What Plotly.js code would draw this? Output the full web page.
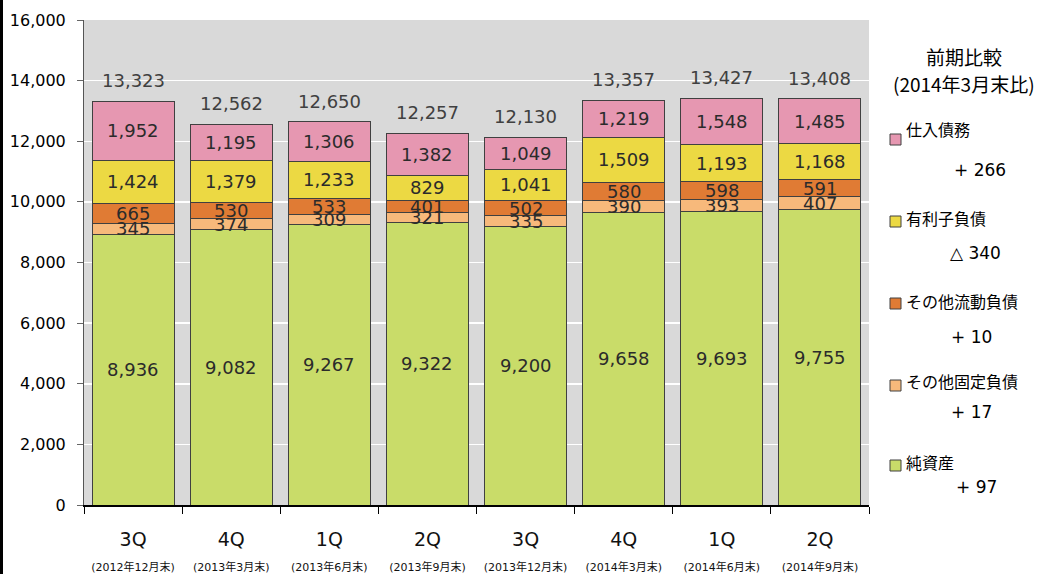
<!DOCTYPE html>
<html>
<head>
<meta charset="utf-8">
<script src="https://cdn.plot.ly/plotly-3.0.1.min.js"></script>
<style>
html,body{margin:0;padding:0;background:#fff;}
#chart{width:1041px;height:574px;}
#edge{position:absolute;left:0;top:0;width:3px;height:574px;background:#000;}
</style>
</head>
<body>
<div id="chart"></div>
<div id="edge"></div>
<script>
// ---- data ----
const quarters = ["3Q","4Q","1Q","2Q","3Q","4Q","1Q","2Q"];
const periods = ["(2012年12月末)","(2013年3月末)","(2013年6月末)","(2013年9月末)","(2013年12月末)","(2014年3月末)","(2014年6月末)","(2014年9月末)"];
const categories = ["c1","c2","c3","c4","c5","c6","c7","c8"];
const seriesNames = ["純資産","その他固定負債","その他流動負債","有利子負債","仕入債務"];
const netAssets = [8936, 9082, 9267, 9322, 9200, 9658, 9693, 9755];
const otherFixed = [345, 374, 309, 321, 335, 390, 393, 407];
const otherCurrent = [665, 530, 533, 401, 502, 580, 598, 591];
const interestDebt = [1424, 1379, 1233, 829, 1041, 1509, 1193, 1168];
const payables = [1952, 1195, 1306, 1382, 1049, 1219, 1548, 1485];
const totals = [13323, 12562, 12650, 12257, 12130, 13357, 13427, 13408];
const legendTitle = ["前期比較", "(2014年3月末比)"];
const legendOrder = ["仕入債務","有利子負債","その他流動負債","その他固定負債","純資産"];
const changes = ["+ 266", "△ 340", "+ 10", "+ 17", "+ 97"];
const yTicks = [0, 2000, 4000, 6000, 8000, 10000, 12000, 14000, 16000];

// ---- style ----
const colors = {"純資産":"#c9dc69","その他固定負債":"#f7b97b","その他流動負債":"#e07b34","有利子負債":"#ecd943","仕入債務":"#e697b1"};
const FONT = "DejaVu Sans, Verdana, 'Noto Sans CJK JP', sans-serif";
const JFONT = "'Noto Sans CJK JP', 'DejaVu Sans', sans-serif";
const fmt = v => v.toLocaleString('en-US');

const seriesVals = [netAssets, otherFixed, otherCurrent, interestDebt, payables];
const traces = seriesVals.map((vals, i) => ({
  type: 'bar',
  name: seriesNames[i],
  x: categories,
  y: vals,
  marker: {color: colors[seriesNames[i]], line: {color: '#404040', width: 1}},
  hoverinfo: 'none'
}));

const annotations = [];
// segment labels
const base = categories.map(() => 0);
seriesVals.forEach(vals => {
  vals.forEach((v, j) => {
    annotations.push({x: categories[j], y: base[j] + v / 2, xref: 'x', yref: 'y', text: fmt(v),
      xanchor: 'center', yanchor: 'middle',
      showarrow: false, font: {family: FONT, size: 18, color: '#2b2b2b'}});
    base[j] += v;
  });
});
// totals
totals.forEach((t, j) => {
  annotations.push({x: categories[j], y: t, xref: 'x', yref: 'y', text: fmt(t), xanchor: 'center', yanchor: 'bottom', yshift: 8,
    showarrow: false, font: {family: FONT, size: 18, color: '#404040'}});
});

// legend panel (paper coords from pixel positions)
const PL = 84, PW = 785, PT = 20, PH = 485;
const px = X => (X - PL) / PW;
const py = Y => (PT + PH - Y) / PH;
annotations.push({xref:'paper', yref:'paper', x: px(964), y: py(57), xanchor:'center', yanchor:'middle', text: legendTitle[0], showarrow:false,
  font:{family: JFONT, size: 19, color:'#000'}});
annotations.push({xref:'paper', yref:'paper', x: px(964), y: py(83), xanchor:'center', yanchor:'middle', text: legendTitle[1], showarrow:false,
  font:{family: JFONT, size: 19, color:'#000'}});
const itemTextY = [129, 218, 301, 381, 462];
const squareY = [134, 216, 298, 380, 460];
const changeY = [170, 253, 337, 412, 487];
const changeX = [980, 975, 971, 971, 976];
const shapes = [];
legendOrder.forEach((name, k) => {
  shapes.push({type:'rect', xref:'paper', yref:'paper', x0: px(890), x1: px(901), y0: py(squareY[k] + 11), y1: py(squareY[k]),
    fillcolor: colors[name], line:{color:'#404040', width:1}});
  annotations.push({xref:'paper', yref:'paper', x: px(904), y: py(itemTextY[k]), xanchor:'left', yanchor:'middle', text: name, showarrow:false,
    font:{family: JFONT, size: 16, color:'#000'}});
  annotations.push({xref:'paper', yref:'paper', x: px(changeX[k]), y: py(changeY[k]), xanchor:'center', yanchor:'middle', text: changes[k], showarrow:false,
    font:{family: FONT, size: 17, color:'#000'}});
});

const layout = {
  width: 1041, height: 574,
  margin: {l: PL, r: 1041 - PL - PW, t: PT, b: 574 - PT - PH, pad: 0},
  paper_bgcolor: '#ffffff',
  plot_bgcolor: '#d9d9d9',
  barmode: 'stack',
  bargap: 0.165,
  showlegend: false,
  xaxis: {
    type: 'category',
    tickmode: 'array',
    tickvals: categories,
    ticktext: quarters.map((q, j) => q + "<br><span style='font-size:11px'>" + periods[j] + "</span>"),
    tickson: 'boundaries',
    ticks: 'outside', ticklen: 7, tickcolor: '#000', tickwidth: 1,
    showline: true, linecolor: '#000', linewidth: 1.5,
    showgrid: false,
    ticklabelstandoff: 17,
    tickfont: {family: FONT, size: 19, color: '#111'}
  },
  yaxis: {
    range: [0, 16000],
    tickmode: 'array',
    tickvals: yTicks,
    ticktext: yTicks.map(fmt),
    ticks: 'outside', ticklen: 6, tickcolor: '#666', tickwidth: 1,
    showline: true, linecolor: '#555', linewidth: 1,
    showgrid: true, gridcolor: '#ffffff', gridwidth: 1.5,
    zeroline: false,
    ticklabelstandoff: 8,
    tickfont: {family: FONT, size: 16, color: '#000'}
  },
  annotations: annotations,
  shapes: shapes
};

Plotly.newPlot('chart', traces, layout, {displayModeBar: false, staticPlot: true});
</script>
</body>
</html>
